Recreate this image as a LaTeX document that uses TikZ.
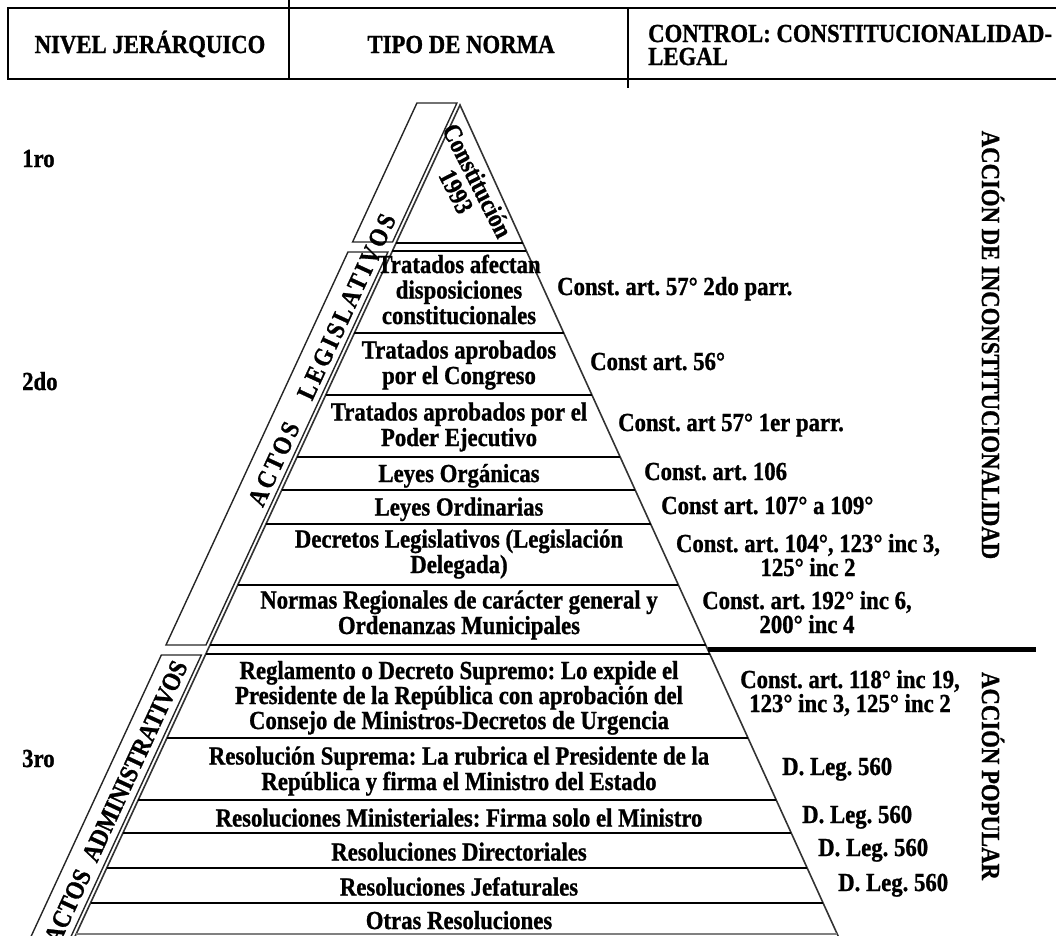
\documentclass[tikz,border=0pt]{standalone}
\usepackage{fontspec}
\setmainfont{Liberation Serif}[FakeStretch=0.875, BoldFeatures={FakeBold=1}]
\pgfmathdeclarefunction{xl}{1}{\pgfmathparse{460-0.463*(#1-105)}}
\pgfmathdeclarefunction{xr}{1}{\pgfmathparse{460+0.455*(#1-105)}}
\newcommand\tfont{\fontsize{26}{25.5}\selectfont\bfseries\frenchspacing}
\tikzset{
  lbl/.style={font=\tfont, inner sep=0pt, align=center, anchor=base},
  rlbl/.style={font=\tfont, inner sep=0pt, anchor=base west},
  vlbl/.style={font=\tfont, inner sep=0pt},
  pyredge/.style={line width=1.6pt, draw=black!80},
  rowline/.style={line width=2.6pt, draw=black},
  bandline/.style={line width=1.4pt, draw=black!85, line join=miter},
  hdrline/.style={line width=2.8pt, draw=black},
}
\begin{document}
\begin{tikzpicture}[x=1pt,y=-1pt]
\useasboundingbox (0,0) rectangle (1056,935);
\clip (0,0) rectangle (1056,935);
% header
\draw[hdrline] (1060,8) -- (8,8) -- (8,79) -- (1060,79);
\draw[hdrline] (289,0) -- (289,79);
\draw[hdrline] (628,8) -- (628,88);
\node[lbl] (h1) at (150,53) {NIVEL JERÁRQUICO};
\node[lbl] (h2) at (461,53) {TIPO DE NORMA};
\node[font=\tfont, inner sep=0pt, align=left, anchor=base west] (h3) at (648,65) {CONTROL: CONSTITUCIONALIDAD-\\[-2.5pt]LEGAL};
% pyramid
\draw[pyredge] ({xl(945)},945) -- (460,105) -- ({xr(945)},945);
\foreach \y in {243,251,333,395,457,490,524,585,645,654,738,800,833,868,903}
  \draw[rowline] ({xl(\y)},\y) -- ({xr(\y)},\y);
\draw[gray, line width=1.5pt] ({xl(934)},934) -- ({xr(934)},934);
% bands
\draw[bandline] ({xl(103)-44},103) -- ({xl(103)-4},103) -- ({xl(242)-4},242) -- ({xl(242)-44},242) -- cycle;
\draw[bandline] ({xl(252)-44},252) -- ({xl(252)-4},252) -- ({xl(645)-4},645) -- ({xl(645)-44},645) -- cycle;
\draw[bandline] ({xl(655)-44},655) -- ({xl(655)-4},655) -- ({xl(960)-4},960) -- ({xl(960)-44},960) -- cycle;
% separator
\draw[line width=5pt] ({xr(649)},649) -- (1036,649);
% band texts
\node[font={\tfont\addfontfeature{LetterSpace=11}}, rotate=65.2, inner sep=0pt] (leg) at (322,360) {ACTOS\hspace{28pt}LEGISLATIVOS};
\node[vlbl, rotate=65.2] (adm) at (116,802) {ACTOS\hspace{12pt}ADMINISTRATIVOS};
\node[vlbl, rotate=-63, align=center] (const) at (467,186) {Constitución\\[-1.5pt]1993};
% row texts (anchor = baseline of the last line)
\node[lbl] (r1) at (459,324) {Tratados afectan\\disposiciones\\constitucionales};
\node[lbl] (r2) at (459,384) {Tratados aprobados\\por el Congreso};
\node[lbl] (r3) at (459,446) {Tratados aprobados por el\\Poder Ejecutivo};
\node[lbl] (r4) at (459,482) {Leyes Orgánicas};
\node[lbl] (r5) at (459,515.5) {Leyes Ordinarias};
\node[lbl] (r6) at (459,573) {Decretos Legislativos (Legislación\\Delegada)};
\node[lbl] (r7) at (459,634) {Normas Regionales de carácter general y\\Ordenanzas Municipales};
\node[lbl] (r8) at (459,729) {Reglamento o Decreto Supremo: Lo expide el\\[-0.5pt]Presidente de la República con aprobación del\\[-0.5pt]Consejo de Ministros-Decretos de Urgencia};
\node[lbl] (r9) at (459,790) {Resolución Suprema: La rubrica el Presidente de la\\República y firma el Ministro del Estado};
\node[lbl] (r10) at (459,826.5) {Resoluciones Ministeriales: Firma solo el Ministro};
\node[lbl] (r11) at (459,860.5) {Resoluciones Directoriales};
\node[lbl] (r12) at (459,895.5) {Resoluciones Jefaturales};
\node[lbl] (r13) at (459,929) {Otras Resoluciones};
% right labels
\node[rlbl] (c1) at (557,295) {Const. art. 57° 2do parr.};
\node[rlbl] (c2) at (590,370) {Const art. 56°};
\node[rlbl] (c3) at (618,431) {Const. art 57° 1er parr.};
\node[rlbl] (c4) at (644,480) {Const. art. 106};
\node[rlbl] (c5) at (661,514) {Const art. 107° a 109°};
\node[lbl] (c6) at (808,576) {Const. art. 104°, 123° inc 3,\\[-1.5pt]125° inc 2};
\node[lbl] (c7) at (807,633) {Const. art. 192° inc 6,\\[-1.5pt]200° inc 4};
\node[lbl] (c8) at (850,712) {Const. art. 118° inc 19,\\[-1.5pt]123° inc 3, 125° inc 2};
\node[rlbl] (d1) at (782,775) {D. Leg. 560};
\node[rlbl] (d2) at (802,823) {D. Leg. 560};
\node[rlbl] (d3) at (818,856) {D. Leg. 560};
\node[rlbl] (d4) at (838,891) {D. Leg. 560};
% level labels
\node[rlbl] (n1) at (22,167) {1ro};
\node[rlbl] (n2) at (22,390) {2do};
\node[rlbl] (n3) at (22,767) {3ro};
% vertical labels
\node[vlbl, rotate=-90] (v1) at (993,345) {ACCIÓN DE INCONSTITUCIONALIDAD};
\node[vlbl, rotate=-90] (v2) at (993,776) {ACCIÓN POPULAR};
\end{tikzpicture}
\end{document}
